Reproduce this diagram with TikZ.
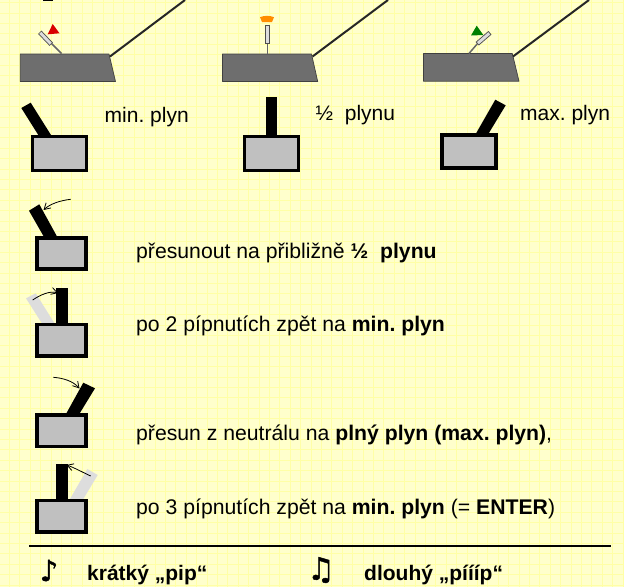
\documentclass[tikz,border=0pt]{standalone}
\usepackage{fontspec}
\setmainfont{Liberation Sans}
\newfontfamily\notefont[FakeBold=1.6]{DejaVu Sans}
\usetikzlibrary{calc,shapes,arrows.meta,positioning}
\definecolor{paper}{HTML}{FFFFCC}
\definecolor{paperline}{HTML}{FFFFA6}
\definecolor{bodygray}{HTML}{6E6E6E}
\definecolor{boxgray}{HTML}{C0C0C0}
\definecolor{ghostgray}{HTML}{DDDDDD}
\tikzset{%
    txbody/.style={%
        draw=black!75, line width=0.7pt, fill=bodygray, line join=round
    },
    antenna/.style={%
        draw=black!85, line width=2pt
    },
    stem/.style={%
        draw=black!60, line width=1.5pt
    },
    handle/.style={%
        draw=black!70, fill=ghostgray, line width=0.7pt
    },
    leverbox/.style 2 args={%
        rectangle, draw=black, line width=3.6pt, fill=boxgray, minimum width=#1, minimum height=#2, inner sep=0pt
    },
    lever/.style={%
        fill=black
    },
    ghost/.style={%
        fill=ghostgray
    },
    move/.style={%
        -{Straight Barb[length=6pt,width=7pt]}, line width=0.8pt
    },
    txt/.style={%
        anchor=base west, inner sep=0pt, font=\frenchspacing\fontsize{21}{24}\selectfont
    },
    rowtxt/.style={%
        anchor=base west, inner sep=0pt, font=\frenchspacing\fontsize{21.2}{24}\selectfont
    },
    boldtxt/.style={%
        anchor=base west, inner sep=0pt, font=\frenchspacing\bfseries\fontsize{21}{24}\selectfont
    },
    note/.style={%
        inner sep=0pt, font=\notefont\fontsize{29}{31}\selectfont
    },
}
\begin{document}
\begin{tikzpicture}[x=1pt,y=-1pt]
      \useasboundingbox (0,0) rectangle (624,587);
      \fill[paper] (0,0) rectangle (624,587);
      \foreach \i in {0,...,60} \draw[paperline, line width=0.7pt] ({10.4*\i-1},0) -- ({10.4*\i-1},587);
      \foreach \i in {0,...,56} \draw[paperline, line width=0.7pt] (0,{10.4*\i+2.6}) -- (624,{10.4*\i+2.6});

      \fill (43,0) rectangle (53,1);

      \path[txbody] (20.3,54) -- (109,54) -- (115.5,81.5) -- (20.3,81.5) -- cycle;
      \path[txbody] (222.5,54) -- (311.5,54) -- (317.7,81.5) -- (222.5,81.5) -- cycle;
      \path[txbody] (423.5,53.5) -- (512.3,53.5) -- (519,81.2) -- (423.5,81.2) -- cycle;

      \coordinate (antA) at (185,0);
      \coordinate (antB) at (388,0);
      \coordinate (antC) at (589,0);
      \draw[antenna] (110,56.5) -- (antA);
      \draw[antenna] (312.5,56.5) -- (antB);
      \draw[antenna] (513,56.5) -- (antC);

      \draw[stem] (61.5,53.5) -- (51,43);
      \path[handle] (52.4,42.6) -- (41.4,31.1) -- (38.6,33.9) -- (49.6,45.4) -- cycle;
      \fill[red!85!black] (47.7,34.3) -- (59.5,33.3) -- (52.7,24) -- cycle;

      \draw[stem] (267.5,53.5) -- (267.5,43);
      \path[handle] (265.5,25) rectangle (269.5,43);
      \fill[orange!90!yellow] (260,17.2) .. controls (264,15.4) and (270,15.4) .. (274,17.2) -- (272,22) -- (262,22) -- cycle;

      \draw[stem] (469,53.5) -- (478,43);
      \path[handle] (478.8,45) -- (491,34.5) -- (488.4,31.5) -- (476.2,42) -- cycle;
      \fill[green!50!black] (471,35.5) -- (483.3,35) -- (476.7,25.7) -- cycle;

      \fill[lever] (21.3,108) -- (30.7,102.7) -- (51,135) -- (38.3,135) -- cycle;
      \fill[lever] (265.7,97.3) rectangle (277.3,135);
      \fill[lever] (475.7,134) -- (488.3,134) -- (505.7,105.3) -- (495.3,99.7) -- cycle;
      \node[leverbox={54pt}{34pt}] (minbox) at (59.5,153.5) {};
      \node[leverbox={54pt}{34pt}] (halfbox) at (271.5,153.6) {};
      \node[leverbox={54pt}{33pt}] (maxbox) at (469,151.6) {};
      \node[txt] (mintxt) at (104.5,122.3) {min. plyn};
      \node[txt] (halftxt) at (315.5,120) {½\ \ plynu};
      \node[txt] (maxtxt) at (520,120) {max. plyn};

      \fill[lever] (29,210.7) -- (39.3,204.3) -- (57.3,237) -- (44,237) -- cycle;
      \node[leverbox={49pt}{31.5pt}] (boxa) at (61.7,253.5) {};
      \coordinate (froma) at (70.7,199.3);
      \coordinate (toa) at (43.5,210);
      \draw[move] (froma) .. controls (60,200.5) and (50,204) .. (toa);
      \node[rowtxt] (txta) at (136,258) {přesunout na přibližně \textbf{½\ \ plynu}};

      \fill[ghost] (26,298.3) -- (35.7,293.3) -- (54.3,323) -- (41.7,323) -- cycle;
      \fill[lever] (55.7,287.7) rectangle (67.7,323);
      \node[leverbox={49pt}{31.5pt}] (boxb) at (61.7,340.2) {};
      \coordinate (fromb) at (32.7,300);
      \coordinate (tob) at (58,293);
      \draw[move] (fromb) .. controls (40,295) and (50,290.5) .. (tob);
      \node[rowtxt] (txtb) at (136,331.7) {po 2 pípnutích zpět na \textbf{min. plyn}};

      \fill[lever] (66,414) -- (79.3,414) -- (95,388.3) -- (83.3,382.7) -- cycle;
      \node[leverbox={49pt}{31.5pt}] (boxc) at (61.7,430.8) {};
      \coordinate (fromc) at (53.3,377.3);
      \coordinate (toc) at (79.5,388.5);
      \draw[move] (fromc) .. controls (63,378) and (73,381) .. (toc);
      \node[rowtxt] (txtc) at (136,440) {přesun z neutrálu na \textbf{plný plyn (max. plyn)},};

      \fill[ghost] (70,499) -- (83.3,499) -- (97.7,475) -- (87.3,469) -- cycle;
      \fill[lever] (55.7,463.7) rectangle (67.7,499);
      \node[leverbox={49pt}{31.5pt}] (boxd) at (61.7,516.2) {};
      \coordinate (fromd) at (90.7,476);
      \coordinate (tod) at (66.5,465);
      \draw[move] (fromd) .. controls (82,472) and (74,467.5) .. (tod);
      \node[rowtxt] (txtd) at (136,514) {po 3 pípnutích zpět na \textbf{min. plyn} (= \textbf{ENTER})};

      \coordinate (rulea) at (29.3,545.7);
      \coordinate (ruleb) at (610.7,545.7);
      \draw[line width=2pt] (rulea) -- (ruleb);

      \node[note] (shortnote) at (49,570.5) {♪};
      \node[note, font=\notefont\fontsize{31}{33}\selectfont] (longnote) at (321,570) {♫};
      \node[boldtxt] (shorttxt) at (87,580) {krátký „pip“};
      \node[boldtxt] (longtxt) at (364,580) {dlouhý „píííp“};
    \end{tikzpicture}
\end{document}
